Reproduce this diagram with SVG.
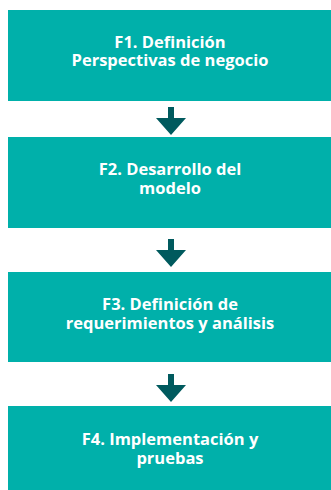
<svg xmlns="http://www.w3.org/2000/svg" width="331" height="490" viewBox="0 0 331 490">
<defs>
<style>
.box{fill:#00b0aa}
.lbl{fill:#ffffff;font-family:"Open Sans","Noto Sans",sans-serif;font-weight:700;font-size:16.5px;text-anchor:middle}
.arr{fill:#005a5e}
</style>
<path id="arrow" class="arr" d="M-3,0 H3 V11 H15 L0,28 L-15,11 H-3 Z"/>
</defs>
<rect width="331" height="490" fill="#ffffff"/>
<g id="connectors">
<use href="#arrow" x="171" y="107"/>
<use href="#arrow" x="171" y="239"/>
<use href="#arrow" x="171" y="374"/>
</g>
<g id="f1">
<rect class="box" x="8" y="10" width="323" height="91"/>
<text class="lbl"><tspan x="170" y="47.5">F1. Definición</tspan><tspan x="170" y="66">Perspectivas de negocio</tspan></text>
</g>
<g id="f2">
<rect class="box" x="8" y="137" width="323" height="91"/>
<text class="lbl"><tspan x="170" y="174.5">F2. Desarrollo del</tspan><tspan x="170" y="194">modelo</tspan></text>
</g>
<g id="f3">
<rect class="box" x="8" y="272" width="323" height="90"/>
<text class="lbl"><tspan x="170" y="310">F3. Definición de</tspan><tspan x="170" y="329">requerimientos y análisis</tspan></text>
</g>
<g id="f4">
<rect class="box" x="8" y="406" width="323" height="84"/>
<text class="lbl"><tspan x="170" y="444.5">F4. Implementación y</tspan><tspan x="170" y="463.5">pruebas</tspan></text>
</g>
</svg>
